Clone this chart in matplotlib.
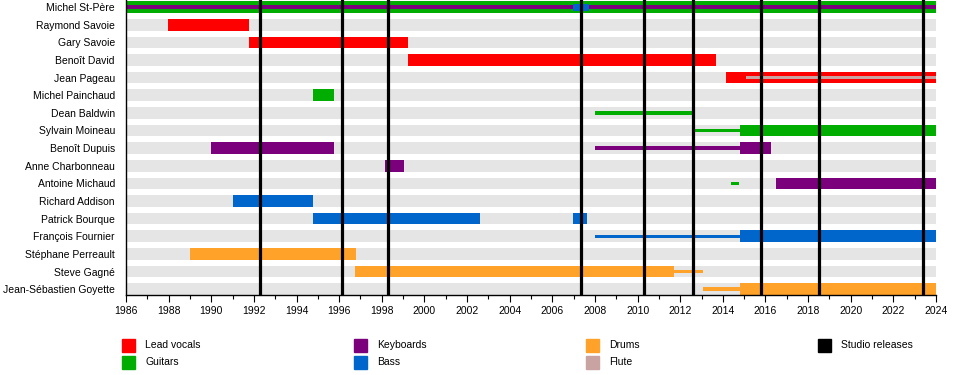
import numpy as np
import matplotlib.pyplot as plt
from matplotlib.patches import Rectangle

plt.rcParams['font.family'] = ['Liberation Sans', 'DejaVu Sans']
plt.rcParams['font.size'] = 7.5

members = ["Michel St-Père", "Raymond Savoie", "Gary Savoie", "Benoît David",
           "Jean Pageau", "Michel Painchaud", "Dean Baldwin", "Sylvain Moineau",
           "Benoît Dupuis", "Anne Charbonneau", "Antoine Michaud", "Richard Addison",
           "Patrick Bourque", "François Fournier", "Stéphane Perreault",
           "Steve Gagné", "Jean-Sébastien Goyette"]

# one entry per period: member, start, end, role, status (full / tour / guest)
span_member = ["Michel St-Père", "Michel St-Père", "Michel St-Père",
               "Raymond Savoie", "Gary Savoie", "Benoît David",
               "Jean Pageau", "Jean Pageau",
               "Michel Painchaud", "Dean Baldwin",
               "Sylvain Moineau", "Sylvain Moineau",
               "Benoît Dupuis", "Benoît Dupuis", "Benoît Dupuis",
               "Anne Charbonneau",
               "Antoine Michaud", "Antoine Michaud",
               "Richard Addison", "Patrick Bourque", "Patrick Bourque",
               "François Fournier", "François Fournier",
               "Stéphane Perreault", "Steve Gagné", "Steve Gagné",
               "Jean-Sébastien Goyette", "Jean-Sébastien Goyette"]
span_start = [1986.0, 1986.0, 2006.95,
              1987.95, 1991.75, 1999.25,
              2014.15, 2015.1,
              1994.75, 2008.0,
              2012.6, 2014.8,
              1990.0, 2008.0, 2014.8,
              1998.15,
              2014.4, 2016.5,
              1991.0, 1994.75, 2006.95,
              2008.0, 2014.8,
              1989.0, 1996.75, 2011.7,
              2013.05, 2014.8]
span_end = [2024.0, 2024.0, 2007.7,
            1991.75, 1999.25, 2013.7,
            2024.0, 2024.0,
            1995.75, 2012.6,
            2014.8, 2024.0,
            1995.75, 2014.8, 2016.25,
            1999.05,
            2014.75, 2024.0,
            1994.75, 2002.6, 2007.65,
            2014.8, 2024.0,
            1996.8, 2011.7, 2013.05,
            2014.8, 2024.0]
span_role = ["Guitars", "Keyboards", "Bass",
             "Lead vocals", "Lead vocals", "Lead vocals",
             "Lead vocals", "Flute",
             "Guitars", "Guitars",
             "Guitars", "Guitars",
             "Keyboards", "Keyboards", "Keyboards",
             "Keyboards",
             "Guitars", "Keyboards",
             "Bass", "Bass", "Bass",
             "Bass", "Bass",
             "Drums", "Drums", "Drums",
             "Drums", "Drums"]
span_status = ["full", "tour", "guest",
               "full", "full", "full",
               "full", "tour",
               "full", "tour",
               "tour", "full",
               "full", "tour", "full",
               "full",
               "tour", "full",
               "full", "full", "full",
               "tour", "full",
               "full", "full", "tour",
               "tour", "full"]

releases = [1992.3, 1996.15, 1998.3, 2007.35, 2010.3, 2012.6, 2015.8, 2018.5, 2023.4]

legend_labels = ["Lead vocals", "Guitars", "Keyboards", "Bass", "Drums", "Flute",
                 "Studio releases"]
role_colors = {"Lead vocals": "#ff0000", "Guitars": "#00ad00", "Keyboards": "#7b007b",
               "Bass": "#0066cc", "Drums": "#ffa22a", "Flute": "#c9a2a2",
               "Studio releases": "#000000"}
heights = {"full": 0.66, "tour": 0.2, "guest": 0.4}

fig = plt.figure(figsize=(9.6, 3.75), dpi=100)
ax = fig.add_axes([126 / 960, 1 - 295 / 375, (936 - 126) / 960, 295 / 375])

rows = np.arange(len(members))
ax.barh(rows, 2024 - 1986, left=1986, height=0.66, color="#e5e5e5", zorder=1)

row_of = {m: i for i, m in enumerate(members)}
for k in range(len(span_member)):
    ax.barh(row_of[span_member[k]], span_end[k] - span_start[k], left=span_start[k],
            height=heights[span_status[k]], color=role_colors[span_role[k]],
            zorder=2 + k * 0.01)

ax.vlines(releases, -0.45, 16.35, colors="black", lw=2.3, zorder=3)

ax.set_xlim(1986, 2024)
ax.set_ylim(16.33, -0.4)
ax.set_yticks(rows)
ax.set_yticklabels(members)
ax.tick_params(axis="y", length=0, pad=8)
ax.set_xticks(np.arange(1986, 2025, 2))
ax.set_xticks(np.arange(1986, 2025, 1), minor=True)
ax.tick_params(axis="x", which="major", length=5, width=0.8, pad=3)
ax.tick_params(axis="x", which="minor", length=3, width=0.8)
for s in ["top", "right"]:
    ax.spines[s].set_visible(False)
ax.spines["left"].set_linewidth(1)
ax.spines["bottom"].set_linewidth(1)

# legend, 4 columns x 2 rows
col_x = [122, 354, 586, 818]
row_y = [345, 362]
for i, lab in enumerate(legend_labels):
    cx = col_x[i // 2]
    cy = row_y[i % 2]
    fig.add_artist(Rectangle(((cx) / 960, 1 - (cy + 6.5) / 375), 13 / 960, 13 / 375,
                             color=role_colors[lab], transform=fig.transFigure))
    fig.text((cx + 23) / 960, 1 - cy / 375, lab, va="center", ha="left")

fig.savefig("out.png", dpi=100)
